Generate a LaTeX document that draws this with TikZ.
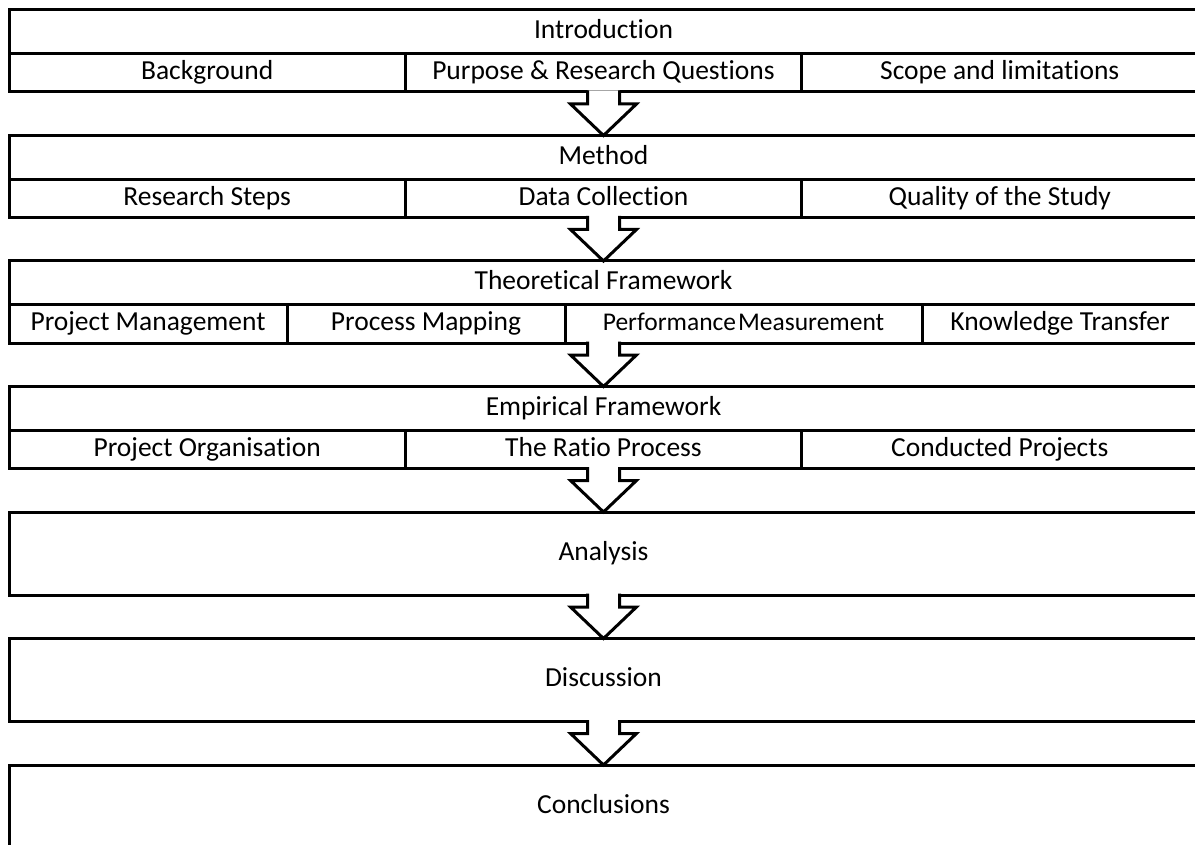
\documentclass[tikz,border=0pt]{standalone}
\usepackage{fontspec}
\setmainfont[Ligatures=NoCommon]{Carlito}
\usetikzlibrary{positioning, calc}

\begin{document}
\begin{tikzpicture}[
  x=1pt, y=-1pt,
  node distance=43.5pt and 0pt,
  head/.style={rectangle, draw, line width=3pt, inner sep=0pt, outer sep=0pt, minimum width=1189pt, minimum height=44pt, text height=18.7pt, text depth=5.5pt, font=\fontsize{27.5}{32}\selectfont},
  cell/.style={rectangle, draw, line width=3pt, inner sep=0pt, outer sep=0pt, minimum width=396.3pt, minimum height=38pt, text height=18.7pt, text depth=5.5pt, font=\fontsize{27.5}{32}\selectfont},
  block/.style={head, minimum height=83pt},
  flow/.style={draw, fill=white, line width=3pt, line join=miter},
]
  \useasboundingbox (0,0) rectangle (1195,845);
  \clip (0,0) rectangle (1195,845);

  \node[head, anchor=north west] (intro) at (9,10) {Introduction};
  \node[cell, anchor=north west] (background) at (intro.south west) {Background};
  \node[cell, right=of background] (purpose) {Purpose \& Research Questions};
  \node[cell, right=of purpose] (scope) {Scope and limitations};

  \node[head, below right=of background.south west] (method) {Method};
  \node[cell, anchor=north west] (steps) at (method.south west) {Research Steps};
  \node[cell, right=of steps] (collection) {Data Collection};
  \node[cell, right=of collection] (quality) {Quality of the Study};

  \node[head, below right=of steps.south west] (theory) {Theoretical Framework};
  \node[cell, minimum width=278pt, anchor=north west] (projmgmt) at (theory.south west) {Project Management};
  \node[cell, minimum width=278pt, right=of projmgmt] (mapping) {Process Mapping};
  \node[cell, minimum width=357pt, right=of mapping, font=\fontsize{25.5}{30}\selectfont] (measure) {Performance\hspace{2pt}Measurement};
  \node[cell, minimum width=276pt, right=of measure] (transfer) {Knowledge Transfer};

  \node[head, below right=of projmgmt.south west] (empirical) {Empirical Framework};
  \node[cell, anchor=north west] (organisation) at (empirical.south west) {Project Organisation};
  \node[cell, right=of organisation] (ratio) {The Ratio Process};
  \node[cell, right=of ratio] (conducted) {Conducted Projects};

  \node[block, below right=of organisation.south west] (analysis) {Analysis};
  \node[block, below=of analysis] (discussion) {Discussion};
  \node[block, below=of discussion] (conclusions) {Conclusions};

  % hollow arrows between the parts
  \foreach \from/\to in {scope/method, quality/theory, transfer/empirical, conducted/analysis, analysis/discussion, discussion/conclusions}
    \draw[flow] ($(\to.north |- \from.south)+(-16,-1.5)$) -- ++(0,13.5) -- ++(-17,0) -- (\to.north)
      -- ($(\to.north |- \from.south)+(33,12)$) -- ++(-17,0) -- ++(0,-13.5);
\end{tikzpicture}
\end{document}
